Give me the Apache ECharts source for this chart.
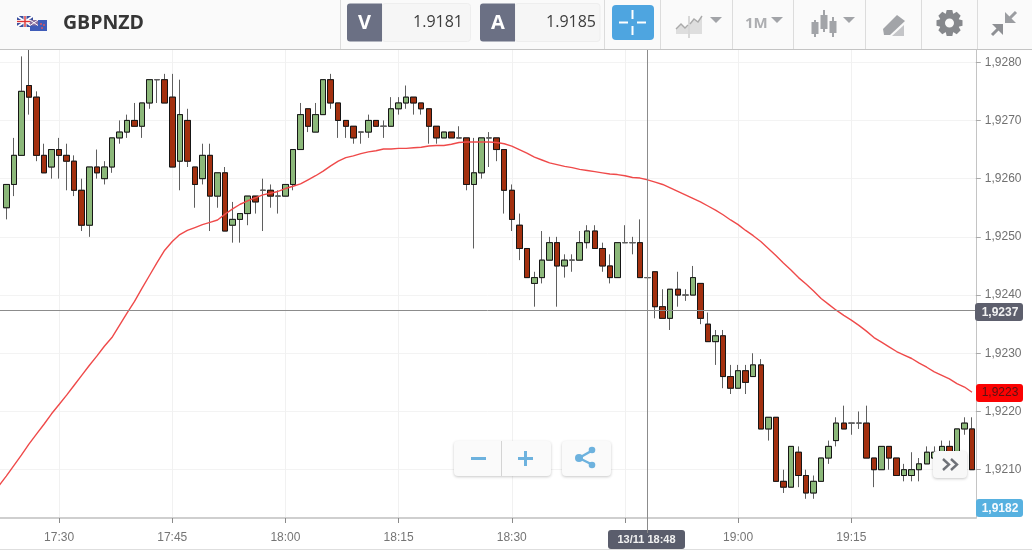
<!DOCTYPE html>
<html><head><meta charset="utf-8">
<script src="https://cdn.jsdelivr.net/npm/echarts@6/dist/echarts.min.js"></script>
<style>html,body{margin:0;padding:0;background:#fff}#c{width:1032px;height:552px}</style>
</head><body><div id="c"></div>
<script>
const firstMinute = 17*60+22;   // the blank slot before the first candle
const timeTicks = ['17:30','17:45','18:00','18:15','18:30','18:45','19:00','19:15'];
const yTicks = [1.9210,1.9220,1.9230,1.9240,1.9250,1.9260,1.9270,1.9280];
const opens = [1.9255,1.9259,1.9264,1.9276,1.9274,1.9264,1.9262,1.9265,1.9264,1.9263,1.9258,1.9252,1.9262,1.9260,1.9262,1.9267,1.9268,1.9270,1.9269,1.9273,1.9277,1.9277,1.9274,1.9263,1.9270,1.9262,1.9260,1.9264,1.9257,1.9261,1.9252,1.9253,1.9254,1.9257,1.9258,1.9258,1.9257,1.9257,1.9259,1.9265,1.9272,1.9268,1.9271,1.9277,1.9273,1.9270,1.9269,1.9268,1.9268,1.9270,1.9269,1.9269,1.9272,1.9273,1.9274,1.9273,1.9272,1.9269,1.9267,1.9268,1.9267,1.9267,1.9259,1.9261,1.9267,1.9267,1.9265,1.9258,1.9252,1.9248,1.9242,1.9243,1.9246,1.9249,1.9245,1.9246,1.9246,1.9249,1.9251,1.9248,1.9245,1.9243,1.9249,1.9249,1.9249,1.9243,1.9244,1.9238,1.9236,1.9241,1.9240,1.9240,1.9242,1.9235,1.9232,1.9233,1.9226,1.9224,1.9227,1.9226,1.9228,1.9217,1.9219,1.9208,1.9207,1.9213,1.9209,1.9206,1.9208,1.9212,1.9215,1.9218,1.9218,1.9218,1.9218,1.9212,1.9210,1.9214,1.9212,1.9209,1.9209,1.9210,1.9211,1.9212,1.9212,1.9214,1.9212,1.9217,1.9217];
const closes = [1.9259,1.9264,1.9275,1.9274,1.9264,1.9261,1.9265,1.9264,1.9263,1.9258,1.9252,1.9262,1.9261,1.9262,1.9267,1.9268,1.9270,1.9269,1.9273,1.9277,1.9277,1.9273,1.9262,1.9271,1.9263,1.9259,1.9264,1.9257,1.9261,1.9251,1.9253,1.9254,1.9257,1.9256,1.9258,1.9257,1.9257,1.9259,1.9265,1.9271,1.9269,1.9271,1.9277,1.9273,1.9270,1.9269,1.9267,1.9268,1.9270,1.9269,1.9269,1.9272,1.9273,1.9274,1.9273,1.9272,1.9269,1.9267,1.9268,1.9267,1.9267,1.9259,1.9261,1.9267,1.9267,1.9265,1.9258,1.9253,1.9248,1.9243,1.9243,1.9246,1.9249,1.9245,1.9246,1.9246,1.9249,1.9251,1.9248,1.9245,1.9243,1.9249,1.9249,1.9249,1.9243,1.9243,1.9238,1.9236,1.9241,1.9240,1.9240,1.9243,1.9236,1.9232,1.9233,1.9226,1.9224,1.9227,1.9225,1.9228,1.9217,1.9219,1.9208,1.9207,1.9214,1.9209,1.9206,1.9208,1.9212,1.9214,1.9218,1.9217,1.9218,1.9218,1.9212,1.9210,1.9214,1.9212,1.9209,1.9210,1.9210,1.9211,1.9213,1.9213,1.9214,1.9212,1.9217,1.9218,1.9210];
const lows = [1.9253,1.9257,1.9264,1.9271,1.9263,1.9261,1.9260,1.9260,1.9258,1.9257,1.9251,1.9250,1.9260,1.9259,1.9261,1.9266,1.9267,1.9269,1.9267,1.9272,1.9273,1.9273,1.9262,1.9258,1.9262,1.9255,1.9259,1.9251,1.9255,1.9251,1.9249,1.9249,1.9252,1.9254,1.9251,1.9255,1.9254,1.9257,1.9258,1.9265,1.9268,1.9268,1.9271,1.9272,1.9267,1.9267,1.9266,1.9266,1.9267,1.9269,1.9267,1.9269,1.9271,1.9272,1.9271,1.9271,1.9266,1.9266,1.9267,1.9267,1.9267,1.9258,1.9248,1.9260,1.9262,1.9263,1.9254,1.9251,1.9246,1.9243,1.9238,1.9242,1.9246,1.9238,1.9243,1.9244,1.9246,1.9248,1.9248,1.9244,1.9242,1.9243,1.9249,1.9247,1.9243,1.9234,1.9236,1.9236,1.9234,1.9238,1.9239,1.9240,1.9235,1.9232,1.9228,1.9224,1.9223,1.9224,1.9223,1.9226,1.9217,1.9215,1.9208,1.9206,1.9207,1.9207,1.9205,1.9205,1.9208,1.9211,1.9214,1.9217,1.9216,1.9217,1.9212,1.9207,1.9210,1.9210,1.9209,1.9208,1.9208,1.9208,1.9211,1.9211,1.9211,1.9211,1.9212,1.9216,1.9210];
const highs = [1.9259,1.9267,1.9281,1.9283,1.9275,1.9266,1.9265,1.9267,1.9266,1.9264,1.9260,1.9262,1.9265,1.9263,1.9267,1.9270,1.9271,1.9273,1.9273,1.9277,1.9277,1.9278,1.9278,1.9277,1.9272,1.9262,1.9266,1.9266,1.9261,1.9262,1.9256,1.9254,1.9257,1.9257,1.9260,1.9259,1.9258,1.9259,1.9265,1.9273,1.9272,1.9273,1.9277,1.9278,1.9273,1.9270,1.9269,1.9268,1.9271,1.9270,1.9270,1.9274,1.9274,1.9276,1.9274,1.9273,1.9272,1.9269,1.9268,1.9268,1.9269,1.9267,1.9267,1.9267,1.9268,1.9267,1.9265,1.9259,1.9254,1.9248,1.9244,1.9251,1.9250,1.9250,1.9247,1.9247,1.9251,1.9252,1.9252,1.9249,1.9247,1.9249,1.9252,1.9250,1.9253,1.9244,1.9244,1.9241,1.9241,1.9244,1.9241,1.9245,1.9242,1.9237,1.9234,1.9234,1.9228,1.9228,1.9228,1.9230,1.9229,1.9219,1.9219,1.9210,1.9214,1.9214,1.9210,1.9209,1.9212,1.9215,1.9219,1.9221,1.9218,1.9220,1.9221,1.9212,1.9214,1.9214,1.9212,1.9211,1.9213,1.9212,1.9214,1.9214,1.9215,1.9215,1.9217,1.9219,1.9219];
const movingAverage = [1.92072,1.92089,1.92107,1.92125,1.92144,1.92161,1.92178,1.92196,1.92212,1.92228,1.92245,1.92262,1.92279,1.92295,1.92312,1.92327,1.92348,1.92369,1.92389,1.92412,1.92434,1.92456,1.92477,1.92492,1.92504,1.92511,1.92516,1.92521,1.92525,1.92529,1.92539,1.92548,1.92556,1.92562,1.92567,1.92572,1.92575,1.92578,1.92583,1.92587,1.92591,1.92598,1.92605,1.92613,1.92622,1.92630,1.92636,1.92639,1.92643,1.92646,1.92648,1.92651,1.92651,1.92652,1.92652,1.92653,1.92654,1.92656,1.92657,1.92657,1.92659,1.92662,1.92663,1.92663,1.92663,1.92663,1.92662,1.92660,1.92656,1.92650,1.92644,1.92637,1.92632,1.92627,1.92624,1.92621,1.92619,1.92616,1.92614,1.92612,1.92610,1.92608,1.92607,1.92605,1.92602,1.92601,1.92598,1.92594,1.92590,1.92584,1.92578,1.92572,1.92566,1.92560,1.92553,1.92546,1.92538,1.92529,1.92521,1.92511,1.92502,1.92492,1.92480,1.92468,1.92455,1.92443,1.92430,1.92419,1.92407,1.92394,1.92384,1.92374,1.92365,1.92357,1.92348,1.92338,1.92327,1.92319,1.92311,1.92303,1.92297,1.92291,1.92283,1.92276,1.92268,1.92262,1.92256,1.92248,1.92242,1.92233];
const crossTime = '18:48', crossPrice = 1.92374;
const symbol = 'GBPNZD', bid = '1.9181', ask = '1.9185', period = '1M';
const crossTag = '13/11 18:48', crossPriceTag = '1,9237', maTag = '1,9223', lastTag = '1,9182';

const pad = n => String(n).padStart(2,'0');
const categories = movingAverage.map((_, i) => { const m = firstMinute + i; return pad(Math.floor(m/60)) + ':' + pad(m%60); });
const blank = ['-','-','-','-'];
const fullCandles = [blank].concat(opens.map((o,i) => [o, closes[i], lows[i], highs[i]]));
const bodyOnly = [blank].concat(opens.map((o,i) => [o, closes[i], Math.min(o,closes[i]), Math.max(o,closes[i])]));
const onTimeTick = (i, v) => timeTicks.includes(v);

const UP = '#8cb87a', DOWN = '#a3300f', WICK = '#5f5f5f', EDGE = '#161616', ICON = '#a2a4a8';
const Z = 100;
const rect = (x,y,w,h,fill,r,extra) => Object.assign({type:'rect', z:Z, shape:{x,y,width:w,height:h,r:r||0}, style:Object.assign({fill}, extra||{})});
const line = (x1,y1,x2,y2,stroke,w) => ({type:'line', z:Z, shape:{x1,y1,x2,y2}, style:{stroke, lineWidth:w||1}});
const text = (x,y,t,font,fill,align) => ({type:'text', z:Z+1, x, y, style:{text:t, font, fill, textAlign:align||'left', textVerticalAlign:'middle'}});
const poly = (pts,fill) => ({type:'polygon', z:Z, shape:{points:pts}, style:{fill}});
const tri = (cx,cy) => poly([[cx-6,cy-3],[cx+6,cy-3],[cx,cy+3]], ICON);
const circle = (cx,cy,r,fill) => ({type:'circle', z:Z, shape:{cx,cy,r}, style:{fill}});
const gearTeeth = [];
for (let k = 0; k < 8; k++) {
  const a = k * Math.PI / 4, s = Math.sin(a), c = Math.cos(a);
  const p = (u, v) => [949.5 + u*c - v*s, 23 + u*s + v*c];
  gearTeeth.push(poly([p(8,-4),p(13,-2.8),p(13,2.8),p(8,4)],'#86888c'));
}
const gear = [...gearTeeth, {type:'ring', z:Z, shape:{cx:949.5,cy:23,r:10,r0:4.5}, style:{fill:'#86888c'}}];

const SEP = '#dcdcdc';
const shadowBtn = {shadowBlur:3, shadowColor:'rgba(0,0,0,0.22)', shadowOffsetY:1};
const toolbar = [
  rect(0,0,1032,49,'#fafafa'),
  line(0,49.5,1032,49.5,'#c4c4c4'),
  // flags
  rect(17,16,16,11,'#3b4f9e'),
  line(17,16,33,27,'#fff',2), line(33,16,17,27,'#fff',2),
  line(25,16,25,27,'#fff',3), line(17,21.5,33,21.5,'#fff',3),
  line(25,16,25,27,'#d33',1.4), line(17,21.5,33,21.5,'#d33',1.4),
  rect(30,20,17,11,'#3f5cb8'),
  rect(30,20,8,5.5,'#8a6f9e'),
  line(30,20,38,25.5,'#fff',1), line(38,20,30,25.5,'#fff',1),
  circle(41,24,0.9,'#e55'), circle(44,25,0.9,'#e55'), circle(42,28,0.9,'#e55'),
  text(63,23,symbol,'bold 19.5px "Open Sans"','#363636'),
  // separators
  ...[340.5,604.5,660.5,732.5,793.5,865.5,921.5,977.5].map(x => line(x,0,x,49,SEP)),
  // bid / ask
  rect(382,3.5,88.5,38,'#f6f6f6',3,{stroke:'#eeeeee'}),
  rect(347,3.5,35,38,'#6b7084',[3,0,0,3]),
  text(364.5,23,'V','bold 20px "Open Sans"','#fff','center'),
  text(463,22.5,bid,'16px "Open Sans"','#3d3d3d','right'),
  rect(515,3.5,85,38,'#f6f6f6',3,{stroke:'#eeeeee'}),
  rect(480,3.5,35,38,'#6b7084',[3,0,0,3]),
  text(498,23,'A','bold 20px "Open Sans"','#fff','center'),
  text(596,22.5,ask,'16px "Open Sans"','#3d3d3d','right'),
  // crosshair button
  rect(612,5,42,35,'#4ea5e0',4),
  rect(631.5,10,2,9,'#fff'), rect(631.5,26,2,9,'#fff'), rect(619,21.5,9,2,'#fff'), rect(637,21.5,9,2,'#fff'),
  // chart type icon
  rect(688.5,16,1,22,'#b5b5b5'),
  poly([[690,24],[694,19],[698,22],[702,16],[702,34],[690,34]],'#dedede'),
  poly([[676,29],[681,24],[685,28],[688,26],[688,34],[676,34]],'#dedede'),
  {type:'polyline', z:Z, shape:{points:[[676,29],[681,24],[685,28],[688,25]]}, style:{stroke:'#aaa', lineWidth:1.4, fill:'none'}},
  {type:'polyline', z:Z, shape:{points:[[690,24],[694,19],[698,22],[702,16]]}, style:{stroke:'#aaa', lineWidth:1.4, fill:'none'}},
  tri(716,20),
  text(745,23.5,period,'bold 15px "Open Sans"','#adaeb1'),
  tri(777,20),
  // candle icon
  rect(814,20,2,17,ICON), rect(811.5,22,7,12,ICON),
  rect(823,10,2,22,ICON), rect(820.5,15,7,14,ICON),
  rect(832,17,2,20,ICON), rect(829.5,21,7,12,ICON),
  tri(849,20),
  // pen icon
  poly([[883,29],[897,15],[905,21],[890,35],[884,35]],ICON),
  poly([[892,36],[904,25],[904,36]],'#c4c5c8'),
  // gear
  ...gear,
  // compress icon
  poly([[1005,23],[1005,12],[1016,23]],'#9b9da1'),
  line(1009,19,1016,12,'#9b9da1',3),
  poly([[1003,24],[992,24],[1003,35]],'#8e9094'),
  line(999,28,992,35,'#8e9094',3),
  // price tags
  rect(975,303,48,18,'#5d5f6d',3), text(1000,312.5,crossPriceTag,'bold 12px "Liberation Sans"','#f2f2f2','center'),
  rect(976,384,47,18,'#fb0202',3), text(1000,393,maTag,'12px "Liberation Sans"','#571414','center'),
  rect(976,499,47,18,'#57b1e0',3), text(1000,508.5,lastTag,'bold 12px "Liberation Sans"','#f6fbff','center'),
  // zoom and share controls
  rect(454,441,97,35,'#fafafa',4,shadowBtn),
  line(501.5,441,501.5,476,'#d4d4d4'),
  rect(471,457,15,3,'#6db2de'), rect(518,457,15,3,'#6db2de'), rect(524,451,3,15,'#6db2de'),
  rect(562,441,49,35,'#fafafa',4,shadowBtn),
  line(579,458,593,450,'#6db2de',2.5), line(579,458,593,465,'#6db2de',2.5),
  circle(579,458,4,'#6db2de'), circle(592,450,3.3,'#6db2de'), circle(592,465,3.3,'#6db2de'),
  // more button
  rect(933,451,34,27,'#f8f8f8',4,shadowBtn),
  {type:'polyline', z:Z+1, shape:{points:[[943,459],[949,464.5],[943,470]]}, style:{stroke:'#6f7278', lineWidth:2.4, fill:'none'}},
  {type:'polyline', z:Z+1, shape:{points:[[951,459],[957,464.5],[951,470]]}, style:{stroke:'#6f7278', lineWidth:2.4, fill:'none'}},
  // bottom strip and time tag
  line(0,549.5,1032,549.5,'#dedede'),
  rect(608,530,77,19,'#5a5d6c',3), text(646.5,539.5,crossTag,'bold 11px "Liberation Sans"','#f2f2f2','center'),
  line(647.5,518,647.5,533,'#8a8a8a')
];

const chart = echarts.init(document.getElementById('c'), null, {renderer:'canvas'});
const candleBase = {type:'candlestick', barWidth:6, silent:true, animation:false};
chart.setOption({
  animation:false,
  backgroundColor:'#fff',
  grid:{left:-5.05, right:56.2, top:50, bottom:34, containLabel:false, outerBoundsMode:'none'},
  xAxis:{
    type:'category', data:categories, boundaryGap:true,
    axisLine:{lineStyle:{color:'#cfcfcf', width:2}},
    axisTick:{show:true, alignWithLabel:true, interval:onTimeTick, length:5, lineStyle:{color:'#8a8a8a'}},
    axisLabel:{interval:onTimeTick, color:'#757575', fontSize:12, fontFamily:'"Liberation Sans"', margin:14},
    splitLine:{show:true, alignWithLabel:true, interval:onTimeTick, lineStyle:{color:'#f1f1f1', width:1}}
  },
  yAxis:{
    type:'value', position:'right', min:1.92017, max:1.92821, scale:true,
    axisLine:{show:true, lineStyle:{color:'#c4c4c4'}},
    axisTick:{show:true, length:5, customValues:yTicks, lineStyle:{color:'#aaaaaa'}},
    axisLabel:{customValues:yTicks, color:'#707070', fontSize:12, fontFamily:'"Liberation Sans"', margin:9,
      formatter:v => v.toFixed(4).replace('.',',')},
    splitLine:{show:true, lineStyle:{color:'#f3f3f3', width:1}}
  },
  series:[
    {type:'line', name:'crosshair', data:[], z:1, silent:true, animation:false, symbol:'none',
      markLine:{silent:true, symbol:'none', animation:false, precision:5, label:{show:false}, lineStyle:{color:'#8c8c8c', width:1, type:'solid'},
        data:[{xAxis:crossTime},{yAxis:crossPrice}]}},
    Object.assign({}, candleBase, {name:'wicks', data:fullCandles, z:2,
      itemStyle:{color:UP,color0:DOWN,borderColor:WICK,borderColor0:WICK,borderColorDoji:WICK,borderWidth:1}}),
    Object.assign({}, candleBase, {name:'bodies', data:bodyOnly, z:3,
      itemStyle:{color:UP,color0:DOWN,borderColor:EDGE,borderColor0:EDGE,borderColorDoji:WICK,borderWidth:1}}),
    {type:'line', name:'MA', data:movingAverage, z:4, symbol:'none', smooth:false, silent:true, animation:false,
     lineStyle:{color:'#ef4a4a', width:1.4}}
  ],
  graphic:{elements:toolbar}
});
</script></body></html>
